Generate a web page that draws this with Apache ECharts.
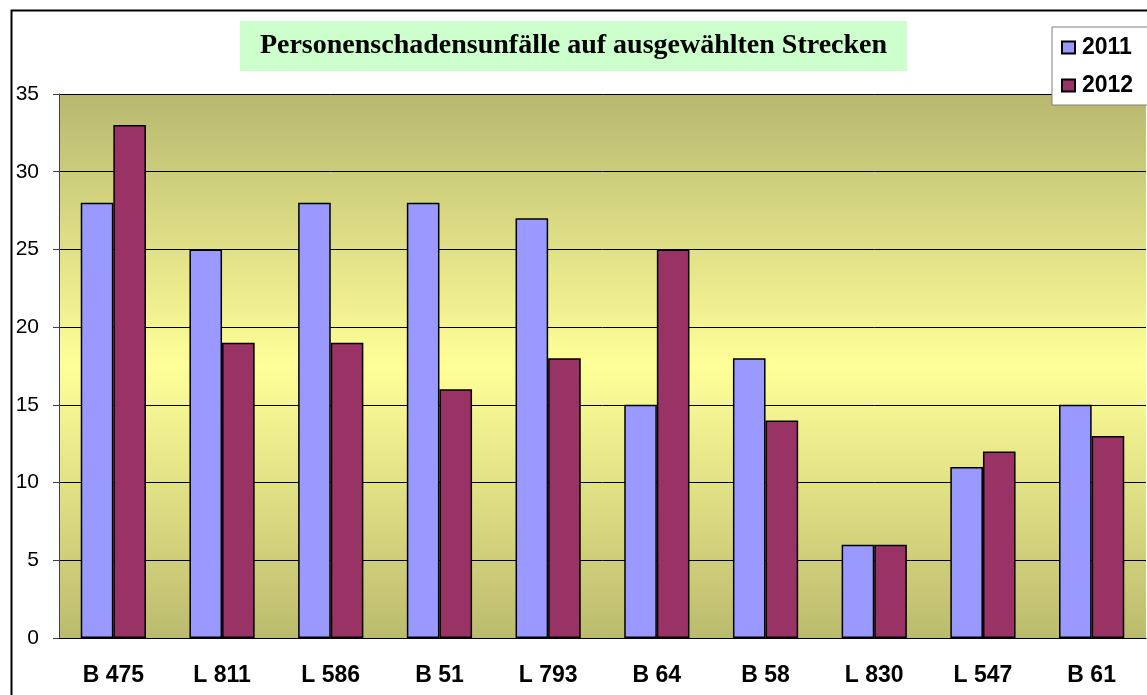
<!DOCTYPE html>
<html>
<head>
<meta charset="utf-8">
<script src="https://cdn.jsdelivr.net/npm/echarts@6/dist/echarts.min.js"></script>
<style>html,body{margin:0;padding:0;background:#fff;}#c{width:1147px;height:695px;}</style>
</head>
<body>
<div id="c"></div>
<script>
const categories = ['B 475', 'L 811', 'L 586', 'B 51', 'L 793', 'B 64', 'B 58', 'L 830', 'L 547', 'B 61'];
const values2011 = [28, 25, 28, 28, 27, 15, 18, 6, 11, 15];
const values2012 = [33, 19, 19, 16, 18, 25, 14, 6, 12, 13];
const seriesNames = ['2011', '2012'];
const titleText = 'Personenschadensunfälle auf ausgewählten Strecken';

const chart = echarts.init(document.getElementById('c'), null, {renderer: 'canvas'});
chart.setOption({
  animation: false,
  title: {
    text: titleText,
    left: 'center',
    top: 21,
    padding: [11, 20, 11, 20],
    backgroundColor: '#CCFFCC',
    textStyle: {fontFamily: 'Liberation Serif', fontWeight: 'bold', fontSize: 28, lineHeight: 28, color: '#000'}
  },
  graphic: [{
    type: 'rect', left: 9, top: 8, z: 100, silent: true,
    shape: {width: 1200, height: 720},
    style: {fill: 'none', stroke: '#000', lineWidth: 2}
  }],
  legend: {
    orient: 'vertical',
    left: 1052, top: 27,
    padding: [9, 20, 8, 9],
    backgroundColor: '#fff',
    borderColor: '#808080', borderWidth: 1,
    itemWidth: 13, itemHeight: 12, itemGap: 15,
    icon: 'rect',
    textStyle: {fontFamily: 'Liberation Sans', fontWeight: 'bold', fontSize: 23, color: '#000', padding: [0, 0, 0, 2]},
    data: seriesNames
  },
  grid: {
    left: 59, right: 1, top: 94, bottom: 57,
    show: true,
    borderWidth: 0,
    backgroundColor: new echarts.graphic.LinearGradient(0, 0, 0, 1, [
      {offset: 0, color: '#B7B86F'},
      {offset: 0.5, color: '#FFFF99'},
      {offset: 1, color: '#BBBB6E'}
    ])
  },
  xAxis: {
    type: 'category',
    data: categories,
    axisLine: {lineStyle: {color: '#000', width: 1}},
    axisTick: {lineStyle: {color: '#808080'}, length: 6},
    axisLabel: {fontFamily: 'Liberation Sans', fontWeight: 'bold', fontSize: 23, color: '#000', margin: 26}
  },
  yAxis: {
    type: 'value', min: 0, max: 35, interval: 5,
    axisLine: {show: true, lineStyle: {color: '#404040', width: 1}},
    axisTick: {show: true, length: 6, lineStyle: {color: '#404040'}},
    splitLine: {lineStyle: {color: '#000', width: 1}},
    axisLabel: {fontFamily: 'Liberation Sans', fontSize: 21, color: '#000', margin: 20}
  },
  series: [
    {
      name: seriesNames[0], type: 'bar', data: values2011,
      barGap: '0%', barCategoryGap: '40%',
      itemStyle: {color: '#9999FF', borderColor: '#000', borderWidth: 1.5}
    },
    {
      name: seriesNames[1], type: 'bar', data: values2012,
      itemStyle: {color: '#993366', borderColor: '#000', borderWidth: 1.5}
    }
  ]
});
</script>
</body>
</html>
